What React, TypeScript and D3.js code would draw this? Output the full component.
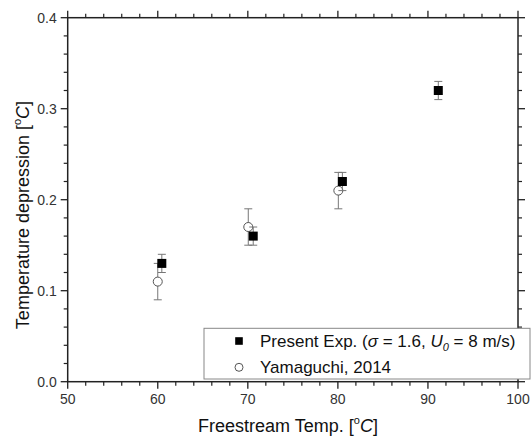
import React from "react";
import * as d3 from "d3";

const presentX = [60.45, 70.6, 80.5, 91.15];
const presentY = [0.13, 0.16, 0.22, 0.32];
const presentErr = [0.01, 0.01, 0.01, 0.01];

const yamaX = [60.0, 70.05, 80.05];
const yamaY = [0.11, 0.17, 0.21];
const yamaErr = [0.02, 0.02, 0.02];

const xTicks = [50, 60, 70, 80, 90, 100];
const yTicks = [0.0, 0.1, 0.2, 0.3, 0.4];

const W = 531, H = 441;
const left = 67.7, right = 518, top = 17.7, bottom = 381.7;

export default function App() {
  const x = d3.scaleLinear().domain([50, 100]).range([left, right]);
  const y = d3.scaleLinear().domain([0, 0.4]).range([bottom, top]);
  const xMinor = d3.range(50, 100.01, 2).filter((v) => v % 10 !== 0);
  const yMinor = d3.range(0, 0.4001, 0.02).filter((v) => Math.abs(v * 10 - Math.round(v * 10)) > 1e-6);
  const font = "Arial, 'Liberation Sans', sans-serif";
  const axisColor = "#222";
  const errColor = "#777";
  const cap = 4;

  return (
    <svg width={W} height={H} style={{ position: "absolute", left: 0, top: 0, background: "#fff" }} fontFamily={font}>
      <rect x={0} y={0} width={W} height={H} fill="#fff" />
      <rect x={left} y={top} width={right - left} height={bottom - top} fill="none" stroke={axisColor} strokeWidth={1.5} />
      {xTicks.map((t) => (
        <g key={"xt" + t}>
          <line x1={x(t)} x2={x(t)} y1={bottom} y2={bottom + 7} stroke={axisColor} strokeWidth={1.3} />
          <line x1={x(t)} x2={x(t)} y1={top} y2={top - 7} stroke={axisColor} strokeWidth={1.3} />
          <text x={x(t)} y={bottom + 22.5} textAnchor="middle" fontSize={14} fill="#333">{t}</text>
        </g>
      ))}
      {xMinor.map((t) => (
        <g key={"xm" + t}>
          <line x1={x(t)} x2={x(t)} y1={bottom} y2={bottom + 4} stroke={axisColor} strokeWidth={1.2} />
          <line x1={x(t)} x2={x(t)} y1={top} y2={top - 4} stroke={axisColor} strokeWidth={1.2} />
        </g>
      ))}
      {yTicks.map((t) => (
        <g key={"yt" + t}>
          <line x1={left} x2={left - 7} y1={y(t)} y2={y(t)} stroke={axisColor} strokeWidth={1.3} />
          <line x1={right} x2={right + 7} y1={y(t)} y2={y(t)} stroke={axisColor} strokeWidth={1.3} />
          <text x={left - 11} y={y(t) + 5} textAnchor="end" fontSize={14} fill="#333">{t.toFixed(1)}</text>
        </g>
      ))}
      {yMinor.map((t) => (
        <g key={"ym" + t}>
          <line x1={left} x2={left - 4} y1={y(t)} y2={y(t)} stroke={axisColor} strokeWidth={1.2} />
          <line x1={right} x2={right + 4} y1={y(t)} y2={y(t)} stroke={axisColor} strokeWidth={1.2} />
        </g>
      ))}
      {yamaX.map((vx, i) => (
        <g key={"ya" + i}>
          <line x1={x(vx)} x2={x(vx)} y1={y(yamaY[i] - yamaErr[i])} y2={y(yamaY[i] + yamaErr[i])} stroke={errColor} strokeWidth={1} />
          <line x1={x(vx) - cap} x2={x(vx) + cap} y1={y(yamaY[i] - yamaErr[i])} y2={y(yamaY[i] - yamaErr[i])} stroke={errColor} strokeWidth={1} />
          <line x1={x(vx) - cap} x2={x(vx) + cap} y1={y(yamaY[i] + yamaErr[i])} y2={y(yamaY[i] + yamaErr[i])} stroke={errColor} strokeWidth={1} />
        </g>
      ))}
      {yamaX.map((vx, i) => (
        <circle key={"yc" + i} cx={x(vx)} cy={y(yamaY[i])} r={4.5} fill="#fff" stroke="#555" strokeWidth={1} />
      ))}
      {presentX.map((vx, i) => (
        <g key={"pe" + i}>
          <line x1={x(vx)} x2={x(vx)} y1={y(presentY[i] - presentErr[i])} y2={y(presentY[i] + presentErr[i])} stroke={errColor} strokeWidth={1} />
          <line x1={x(vx) - cap} x2={x(vx) + cap} y1={y(presentY[i] - presentErr[i])} y2={y(presentY[i] - presentErr[i])} stroke={errColor} strokeWidth={1} />
          <line x1={x(vx) - cap} x2={x(vx) + cap} y1={y(presentY[i] + presentErr[i])} y2={y(presentY[i] + presentErr[i])} stroke={errColor} strokeWidth={1} />
          <rect x={x(vx) - 4.5} y={y(presentY[i]) - 4.5} width={9} height={9} fill="#000" />
        </g>
      ))}
      <rect x={204} y={328.3} width={326} height={50.7} fill="#fff" stroke="#888" strokeWidth={1} />
      <rect x={239 - 3.8} y={341 - 3.8} width={7.6} height={7.6} fill="#000" />
      <circle cx={239} cy={367.3} r={4} fill="#fff" stroke="#555" strokeWidth={1} />
      <text x={260} y={346.7} fontSize={17} fill="#111">
        Present Exp. (<tspan fontStyle="italic">σ</tspan> = 1.6, <tspan fontStyle="italic">U</tspan>
        <tspan fontStyle="italic" fontSize={11} dy={4}>0</tspan>
        <tspan dy={-4}> = 8 m/s)</tspan>
      </text>
      <text x={260} y={373.3} fontSize={17} fill="#111">Yamaguchi, 2014</text>
      <text x={288} y={431.5} textAnchor="middle" fontSize={18} fill="#111">
        Freestream Temp. [<tspan fontSize={11} dy={-8}>o</tspan>
        <tspan fontStyle="italic" dy={8}>C</tspan>]
      </text>
      <text transform={`translate(28.5, 215) rotate(-90)`} textAnchor="middle" fontSize={18} fill="#111">
        Temperature depression [<tspan fontSize={11} dy={-8}>o</tspan>
        <tspan fontStyle="italic" dy={8}>C</tspan>]
      </text>
    </svg>
  );
}
